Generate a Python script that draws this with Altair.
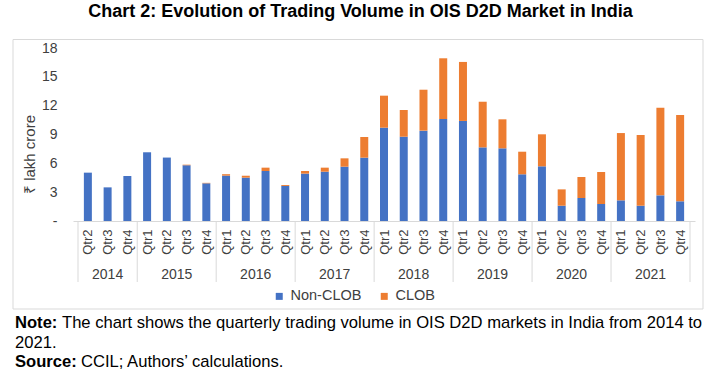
import altair as alt
import pandas as pd

# ---- data ----
years = ["2014"] * 3 + ["2015"] * 4 + ["2016"] * 4 + ["2017"] * 4 + \
        ["2018"] * 4 + ["2019"] * 4 + ["2020"] * 4 + ["2021"] * 4
quarters = ["Qtr2", "Qtr3", "Qtr4"] + ["Qtr1", "Qtr2", "Qtr3", "Qtr4"] * 7
non_clob = [5.03, 3.50, 4.68,
            7.15, 6.60, 5.80, 3.92,
            4.72, 4.51, 5.20, 3.64,
            4.93, 5.13, 5.65, 6.59,
            9.71, 8.77, 9.40, 10.61,
            10.41, 7.66, 7.56, 4.86,
            5.69, 1.59, 2.39, 1.77,
            2.15, 1.59, 2.67, 2.05]
clob = [0.00, 0.00, 0.00,
        0.00, 0.00, 0.06, 0.05,
        0.15, 0.20, 0.35, 0.10,
        0.27, 0.42, 0.87, 2.15,
        3.33, 2.78, 4.26, 6.32,
        6.14, 4.75, 3.02, 2.35,
        3.33, 1.70, 2.19, 3.33,
        7.00, 7.36, 9.12, 8.98]
series_names = ["Non-CLOB", "CLOB"]
series_colors = ["#4472C4", "#ED7D31"]
y_ticks = [0, 3, 6, 9, 12, 15, 18]

title_text = "Chart 2: Evolution of Trading Volume in OIS D2D Market in India"
note_label = "Note:"
note_line1 = "The chart shows the quarterly trading volume in OIS D2D markets in India from 2014 to"
note_line2 = "2021."
source_label = "Source:"
source_text = "CCIL; Authors\u2019 calculations."

FONT = "Liberation Sans"
GRAY = "#d9d9d9"
LABEL = "#404040"

# ---- tables ----
rows = []
for i, (yr, q) in enumerate(zip(years, quarters)):
    rows.append({"idx": i, "year": yr, "qtr": q, "series": series_names[0], "value": non_clob[i], "ord": 0})
    rows.append({"idx": i, "year": yr, "qtr": q, "series": series_names[1], "value": clob[i], "ord": 1})
df = pd.DataFrame(rows)

base_df = pd.DataFrame({"idx": list(range(len(years))), "year": years, "qtr": quarters})
bounds = []
for yr in dict.fromkeys(years):
    ids = [i for i, y in enumerate(years) if y == yr]
    bounds.append(ids[0] - 0.5)
bounds.append(len(years) - 0.5)
bound_df = pd.DataFrame({"b": bounds})

qtr_js = "[" + ",".join("'%s'" % q for q in quarters) + "]"

W, H = 622, 173
xscale = alt.Scale(domain=[-0.5, len(years) - 0.5], nice=False, zero=False)

def xaxis():
    return alt.Axis(values=list(range(len(years))), labelExpr=qtr_js + "[datum.value]",
                    labelAngle=-90, labelAlign="right", labelBaseline="middle",
                    labelPadding=8, labelFontSize=13, labelColor=LABEL,
                    labelOverlap=False, labelFlush=False, labelBound=False,
                    ticks=False, grid=False, domainColor=GRAY, title="")

bars = alt.Chart(df).mark_bar(size=8).encode(
    x=alt.X("idx:Q", scale=xscale, axis=xaxis()),
    y=alt.Y("value:Q", stack="zero", scale=alt.Scale(domain=[0, 18], nice=False),
            axis=alt.Axis(values=y_ticks, labelExpr="datum.value == 0 ? '-\u00a0\u00a0' : datum.label",
                          ticks=False, domain=False, grid=False, labelPadding=16,
                          labelFontSize=14, labelColor=LABEL,
                          title="\u20b9 lakh crore", titleFontSize=15, titleFontWeight="normal",
                          titleColor=LABEL, titleX=-44, titleY=106, titleAngle=-90,
                          titleAlign="center", titleBaseline="middle")),
    color=alt.Color("series:N", scale=alt.Scale(domain=series_names, range=series_colors),
                    legend=alt.Legend(orient="none", legendX=199, legendY=241, direction="horizontal",
                                      title=None, symbolType="square", symbolSize=49,
                                      symbolStrokeWidth=0, labelFontSize=14.5, labelColor=LABEL,
                                      labelOffset=4, columnPadding=15, padding=0)),
    order=alt.Order("ord:Q", sort="ascending"),
)

seps = alt.Chart(bound_df).mark_rule(color=GRAY, strokeWidth=1).encode(
    x=alt.X("b:Q", scale=xscale, axis=xaxis()), y=alt.value(H), y2=alt.value(H + 61)
)

year_labels = alt.Chart(base_df).mark_text(fontSize=14, color=LABEL, baseline="middle").encode(
    x=alt.X("mean(idx):Q", scale=xscale, axis=xaxis()), y=alt.value(H + 54), text="year:N"
)

frame = alt.Chart(pd.DataFrame({"a": [0]})).mark_rect(filled=False, stroke=GRAY, strokeWidth=1).encode(
    x=alt.value(-60), x2=alt.value(630), y=alt.value(-8.5), y2=alt.value(261)
)

def txt(s, x, y, bold=False):
    return alt.Chart(pd.DataFrame({"t": [s]})).mark_text(
        align="left", baseline="alphabetic", fontSize=16.6, color="#000000",
        fontWeight="bold" if bold else "normal"
    ).encode(x=alt.value(x), y=alt.value(y), text="t:N")

notes = (txt(note_label, -58, 280.3, True) + txt(note_line1, -11, 280.3) +
         txt(note_line2, -58, 299.7) +
         txt(source_label, -58, 319.3, True) + txt(source_text, 8, 319.3))

chart = alt.layer(frame, seps, bars, year_labels, notes).properties(
    width=W, height=H,
    title=alt.TitleParams(title_text, fontSize=18, fontWeight="bold", color="#000000",
                          anchor="middle", dx=-23.5, offset=18, font=FONT),
    autosize=alt.AutoSizeParams(type="none"),
    padding={"left": 73, "top": 48, "right": 20, "bottom": 155},
).configure(font=FONT).configure_view(stroke=None)

chart.save("out.html", embed_options={"renderer": "svg", "actions": False})
